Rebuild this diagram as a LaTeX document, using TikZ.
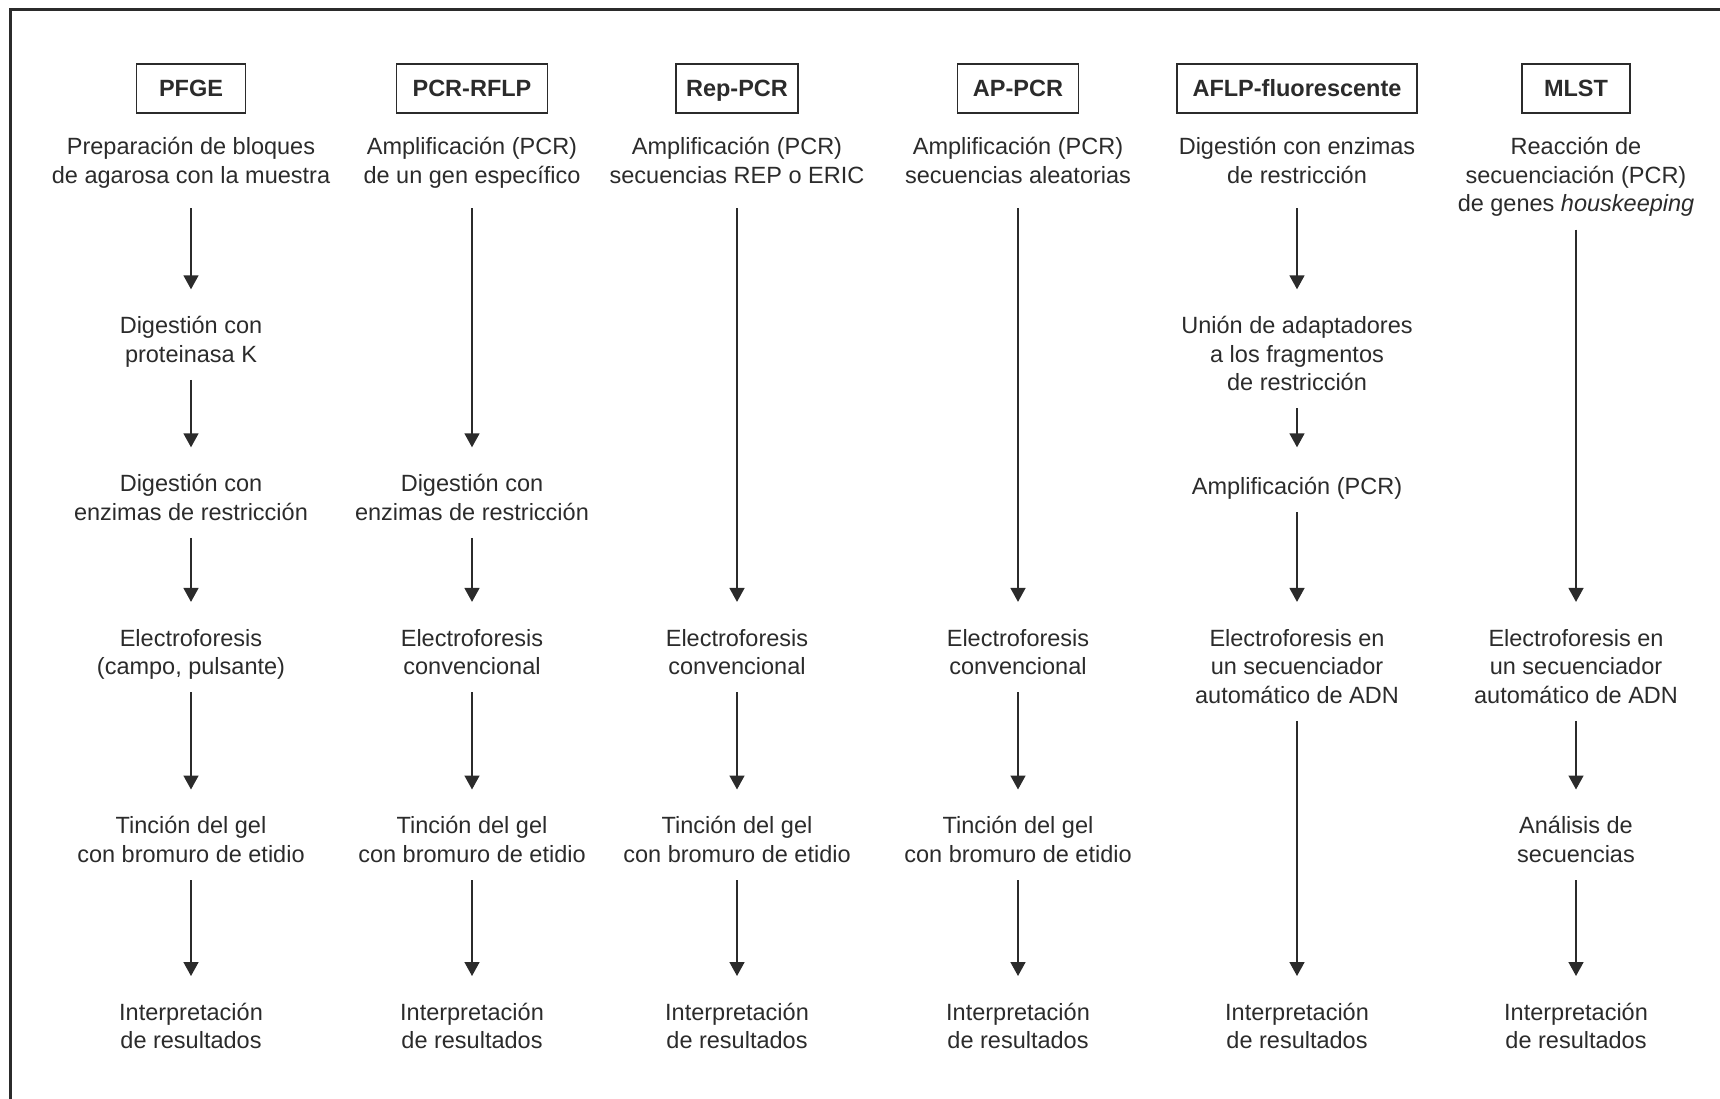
\documentclass[tikz,border=0pt]{standalone}
\usepackage{fontspec}
\setmainfont{Liberation Sans}
\usetikzlibrary{arrows.meta}
\definecolor{ink}{HTML}{2B2B2B}
\begin{document}
\begin{tikzpicture}[x=1pt,y=-1pt,
  stage/.style={font=\fontsize{23.5}{28.5}\selectfont, text=ink, align=center, inner sep=0pt, anchor=north,
    execute at begin node=\strut, execute at end node=\strut},
  hdr/.style={draw=ink, line width=1.8pt, font=\fontsize{23.5}{28.5}\selectfont\bfseries, text=ink,
    inner sep=0pt, minimum height=49pt, text height=17pt, text depth=0pt},
  arr/.style={draw=ink, line width=1.6pt, -{Triangle[width=15pt,length=14pt]}, shorten <=9pt, shorten >=26.9pt},
  firstarr/.style={shorten <=16pt}]
\useasboundingbox (0,0) rectangle (1720,1099);
\begin{scope}
  \clip (0,0) rectangle (1720,1099);
  \draw[ink, line width=3pt] (10,10) rectangle (1760,1140);
\end{scope}

% headers
\node[hdr, minimum width=109pt] (h1) at (191,88.3) {PFGE};
\node[hdr, minimum width=151pt] (h2) at (472,88.3) {PCR-RFLP};
\node[hdr, minimum width=122pt] (h3) at (737,88.3) {Rep-PCR};
\node[hdr, minimum width=121pt] (h4) at (1018,88.3) {AP-PCR};
\node[hdr, minimum width=240pt] (h5) at (1297,88.3) {AFLP-fluorescente};
\node[hdr, minimum width=108pt] (h6) at (1576,88.3) {MLST};

% column 1: PFGE
\node[stage] (a1) at (191,137.4) {Preparación de bloques\\de agarosa con la muestra};
\node[stage] (a2) at (191,316.2) {Digestión con\\proteinasa K};
\node[stage] (a3) at (191,474.2) {Digestión con\\enzimas de restricción};
\node[stage] (a4) at (191,628.8) {Electroforesis\\(campo, pulsante)};
\node[stage] (a5) at (191,816.4) {Tinción del gel\\con bromuro de etidio};
\node[stage] (a6) at (191,1002.9) {Interpretación\\de resultados};

% column 2: PCR-RFLP
\node[stage] (b1) at (472,137.4) {Amplificación (PCR)\\de un gen específico};
\node[stage] (b3) at (472,474.2) {Digestión con\\enzimas de restricción};
\node[stage] (b4) at (472,628.8) {Electroforesis\\convencional};
\node[stage] (b5) at (472,816.4) {Tinción del gel\\con bromuro de etidio};
\node[stage] (b6) at (472,1002.9) {Interpretación\\de resultados};

% column 3: Rep-PCR
\node[stage] (c1) at (737,137.4) {Amplificación (PCR)\\secuencias REP o ERIC};
\node[stage] (c4) at (737,628.8) {Electroforesis\\convencional};
\node[stage] (c5) at (737,816.4) {Tinción del gel\\con bromuro de etidio};
\node[stage] (c6) at (737,1002.9) {Interpretación\\de resultados};

% column 4: AP-PCR
\node[stage] (d1) at (1018,137.4) {Amplificación (PCR)\\secuencias aleatorias};
\node[stage] (d4) at (1018,628.8) {Electroforesis\\convencional};
\node[stage] (d5) at (1018,816.4) {Tinción del gel\\con bromuro de etidio};
\node[stage] (d6) at (1018,1002.9) {Interpretación\\de resultados};

% column 5: AFLP-fluorescente
\node[stage] (e1) at (1297,137.4) {Digestión con enzimas\\de restricción};
\node[stage] (e2) at (1297,316.2) {Unión de adaptadores\\a los fragmentos\\de restricción};
\node[stage] (e3) at (1297,474.2) {Amplificación (PCR)};
\node[stage] (e4) at (1297,628.8) {Electroforesis en\\un secuenciador\\automático de ADN};
\node[stage] (e6) at (1297,1002.9) {Interpretación\\de resultados};

% column 6: MLST
\node[stage] (f1) at (1576,137.4) {Reacción de\\secuenciación (PCR)\\de genes \textit{houskeeping}};
\node[stage] (f4) at (1576,628.8) {Electroforesis en\\un secuenciador\\automático de ADN};
\node[stage] (f5) at (1576,816.4) {Análisis de\\secuencias};
\node[stage] (f6) at (1576,1002.9) {Interpretación\\de resultados};

% arrows
\draw[arr, firstarr] (a1.south) -- (a2.north);
\draw[arr] (a2.south) -- (a3.north);
\draw[arr] (a3.south) -- (a4.north);
\draw[arr] (a4.south) -- (a5.north);
\draw[arr] (a5.south) -- (a6.north);

\draw[arr, firstarr] (b1.south) -- (b3.north);
\draw[arr] (b3.south) -- (b4.north);
\draw[arr] (b4.south) -- (b5.north);
\draw[arr] (b5.south) -- (b6.north);

\draw[arr, firstarr] (c1.south) -- (c4.north);
\draw[arr] (c4.south) -- (c5.north);
\draw[arr] (c5.south) -- (c6.north);

\draw[arr, firstarr] (d1.south) -- (d4.north);
\draw[arr] (d4.south) -- (d5.north);
\draw[arr] (d5.south) -- (d6.north);

\draw[arr, firstarr] (e1.south) -- (e2.north);
\draw[arr] (e2.south) -- (e3.north);
\draw[arr] (e3.south) -- (e4.north);
\draw[arr] (e4.south) -- (e6.north);

\draw[arr] (f1.south) -- (f4.north);
\draw[arr] (f4.south) -- (f5.north);
\draw[arr] (f5.south) -- (f6.north);
\end{tikzpicture}
\end{document}
